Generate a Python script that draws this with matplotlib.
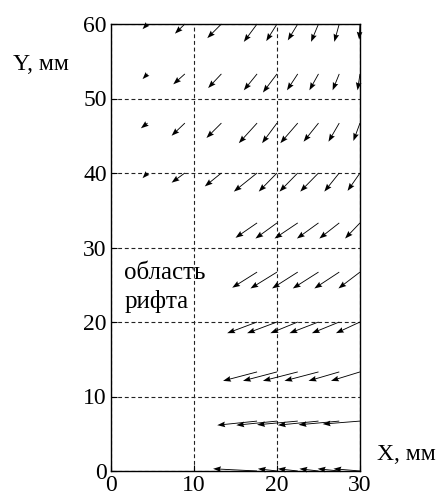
import numpy as np
import matplotlib
matplotlib.use("Agg")
import matplotlib.pyplot as plt

plt.rcParams['font.family'] = ['Liberation Serif', 'DejaVu Serif']

# grid of measurement points (mm)
x_cols = [4.4, 8.9, 13.3, 17.6, 20.0, 22.5, 25.0, 27.5, 30.0]
y_rows = [60.0, 53.3, 46.7, 40.0, 33.3, 26.7, 20.0, 13.3, 6.7, 0.0]

# displacement components per row (None = no vector in the rift area)
u_rows = [
    [-0.6, -1.2, -1.7, -1.6, -1.3, -1.2, -0.9, -0.6, -0.1],
    [-0.6, -1.4, -1.6, -1.6, -1.7, -1.3, -1.1, -0.8, -0.3],
    [-0.8, -1.6, -1.8, -2.2, -1.8, -2.1, -1.8, -1.3, -0.8],
    [-0.6, -1.6, -2.0, -2.8, -2.2, -2.2, -2.2, -1.8, -1.5],
    [None, None, None, -2.6, -2.6, -2.8, -2.6, -2.4, -1.8],
    [None, None, None, -3.0, -3.2, -3.1, -3.1, -3.0, -2.6],
    [None, None, None, -3.6, -3.6, -3.3, -3.5, -3.3, -2.9],
    [None, None, None, -4.1, -4.1, -4.2, -4.1, -3.7, -3.5],
    [None, None, None, -4.8, -4.9, -4.9, -4.9, -4.9, -4.5],
    [None, None, None, -5.3, -2.3, -2.4, -2.3, -2.6, -3.2],
]
v_rows = [
    [-0.7, -1.3, -1.9, -2.4, -2.3, -2.2, -2.4, -2.4, -2.1],
    [-0.7, -1.4, -1.9, -2.2, -2.5, -2.2, -2.2, -2.2, -2.2],
    [-0.7, -1.7, -2.0, -2.7, -2.7, -2.7, -2.5, -2.5, -2.4],
    [-0.7, -1.3, -1.8, -2.5, -2.5, -2.5, -2.5, -2.5, -2.4],
    [None, None, None, -2.0, -2.1, -2.1, -2.1, -2.1, -2.1],
    [None, None, None, -2.1, -2.2, -2.2, -2.2, -2.2, -2.2],
    [None, None, None, -1.5, -1.5, -1.5, -1.5, -1.5, -1.5],
    [None, None, None, -1.2, -1.2, -1.2, -1.2, -1.2, -1.2],
    [None, None, None, -0.55, -0.55, -0.5, -0.55, -0.5, -0.4],
    [None, None, None, 0.3, 0.3, 0.3, 0.3, 0.3, 0.3],
]

x_ticks = [0, 10, 20, 30]
y_ticks = [0, 10, 20, 30, 40, 50, 60]

# flatten to point lists
xs, ys, us, vs = [], [], [], []
for yr, ur, vr in zip(y_rows, u_rows, v_rows):
    for xc, u, v in zip(x_cols, ur, vr):
        if u is None:
            continue
        xs.append(xc)
        ys.append(yr)
        us.append(u)
        vs.append(v)

fig = plt.figure(figsize=(4.43, 4.95), dpi=100)
ax = fig.add_axes([111 / 443, 24 / 495, 249 / 443, 447 / 495])

ax.quiver(xs, ys, us, vs, angles='xy', scale_units='xy', scale=1,
          color='black', width=0.0035, headwidth=6.5, headlength=9,
          headaxislength=8, minlength=0, clip_on=False, zorder=3)

ax.set_xlim(0, 30)
ax.set_ylim(0, 60)
ax.set_xticks(x_ticks)
ax.set_yticks(y_ticks)
ax.tick_params(direction='in', length=4, labelsize=17, pad=3)
for s in ax.spines.values():
    s.set_linewidth(1.0)
ax.grid(True, color='#222222', linestyle=(0, (3.5, 2.5)), linewidth=0.8)

ax.text(1.6, 28.1, "область\nрифта", fontsize=18, ha='left', va='top',
        linespacing=1.35)

fig.text(13 / 443, 1 - 64 / 495, "Y, мм", fontsize=17, ha='left', va='center')
fig.text(377 / 443, 1 - 455 / 495, "X, мм", fontsize=17, ha='left', va='center')

fig.savefig("out.png", dpi=100)
